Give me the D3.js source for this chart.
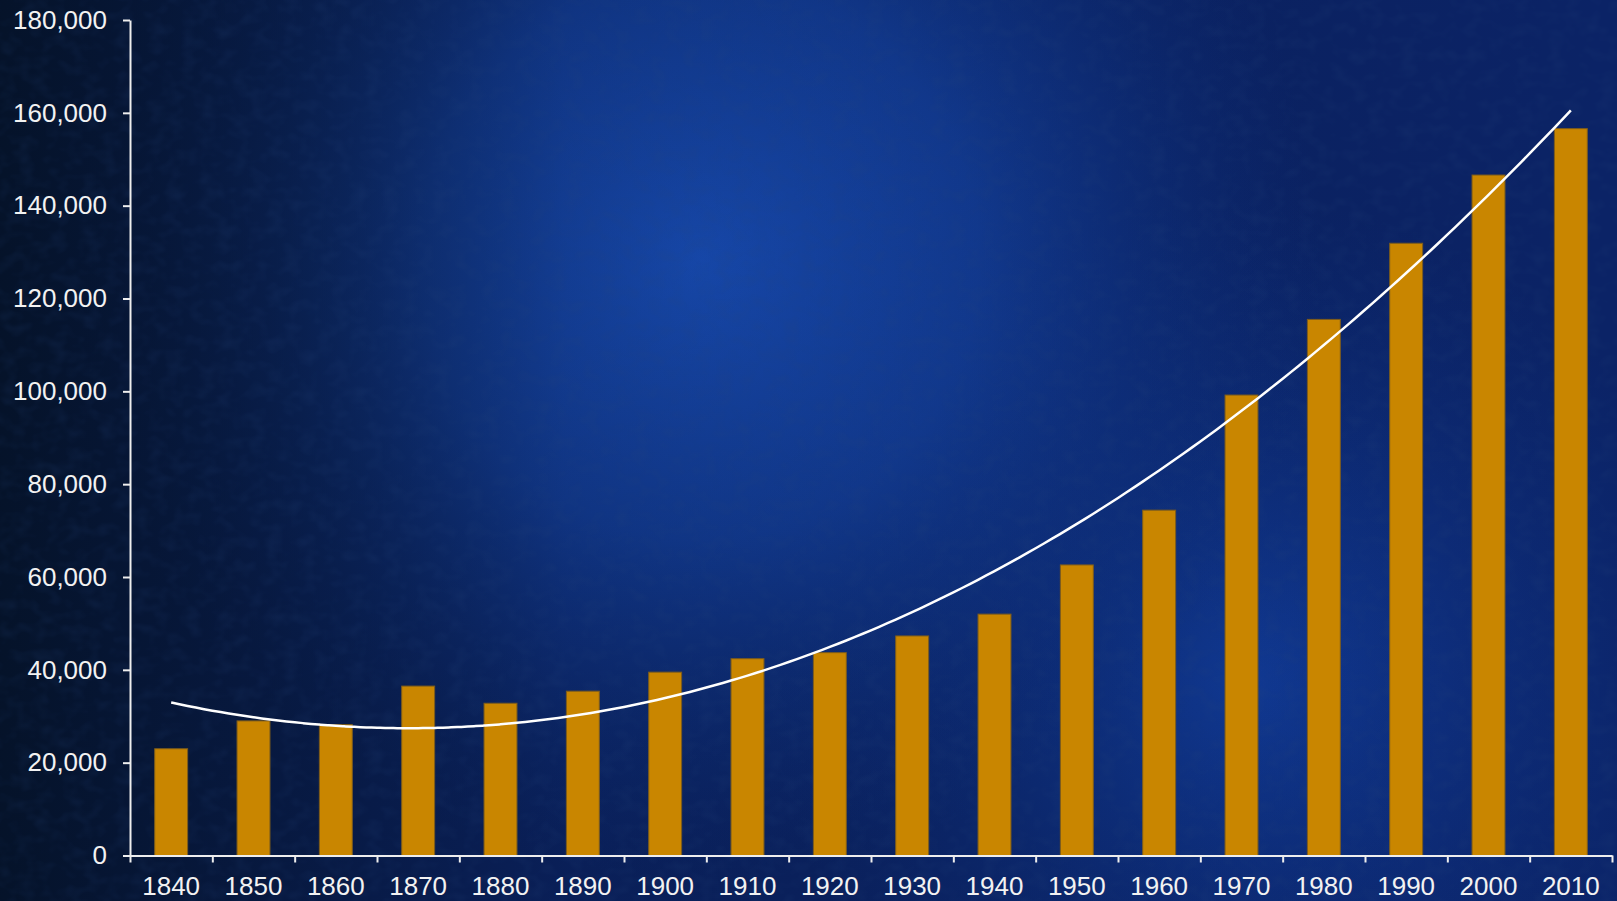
<!DOCTYPE html>
<html>
<head>
<meta charset="utf-8">
<script src="https://d3js.org/d3.v7.min.js"></script>
<style>
    html, body { margin: 0; padding: 0; background: #0a1f55; overflow: hidden; }
    svg { display: block; }
    .axis text { font-family: "Liberation Sans", Arial, sans-serif; font-size: 26px; fill: #f2f2f2; }
    .axis path, .axis line { stroke: #eeeeee; stroke-width: 2; }
</style>
</head>
<body>
<svg id="chart" width="1617" height="901"></svg>
<script>
    // data
    var years = [1840, 1850, 1860, 1870, 1880, 1890, 1900, 1910, 1920, 1930, 1940, 1950, 1960, 1970, 1980, 1990, 2000, 2010];
    var values = [23000, 29000, 28200, 36500, 32800, 35400, 39500, 42400, 43700, 47300, 52000, 62600, 74400, 99200, 115500, 131900, 146600, 156600];
    var yTicks = [0, 20000, 40000, 60000, 80000, 100000, 120000, 140000, 160000, 180000];

    var svg = d3.select('#chart');
    var width = +svg.attr('width');
    var height = +svg.attr('height');
    var margin = ({top: 20, right: 5, bottom: 45.5, left: 130});

    // background: dark navy with a glowing blue patch and some grain
    var defs = svg.append('defs');
    var g1 = defs.append('radialGradient').attr('id', 'glow')
        .attr('gradientUnits', 'userSpaceOnUse')
        .attr('cx', 700).attr('cy', 260).attr('r', 620);
    g1.append('stop').attr('offset', 0).attr('stop-color', '#1a52c4').attr('stop-opacity', 1);
    g1.append('stop').attr('offset', 0.45).attr('stop-color', '#1544a8').attr('stop-opacity', 0.8);
    g1.append('stop').attr('offset', 1).attr('stop-color', '#0d2f80').attr('stop-opacity', 0);
    var g2 = defs.append('radialGradient').attr('id', 'glow2')
        .attr('gradientUnits', 'userSpaceOnUse')
        .attr('cx', 1250).attr('cy', 680).attr('r', 480);
    g2.append('stop').attr('offset', 0).attr('stop-color', '#123ea0').attr('stop-opacity', 0.9);
    g2.append('stop').attr('offset', 1).attr('stop-color', '#0d2f80').attr('stop-opacity', 0);
    var g3 = defs.append('linearGradient').attr('id', 'leftShade')
        .attr('x1', 0).attr('x2', 1).attr('y1', 0).attr('y2', 0);
    g3.append('stop').attr('offset', 0).attr('stop-color', '#04101f').attr('stop-opacity', 0.85);
    g3.append('stop').attr('offset', 0.35).attr('stop-color', '#04101f').attr('stop-opacity', 0.2);
    g3.append('stop').attr('offset', 1).attr('stop-color', '#04101f').attr('stop-opacity', 0);
    var noise = defs.append('filter').attr('id', 'grain')
        .attr('x', 0).attr('y', 0).attr('width', '100%').attr('height', '100%');
    noise.append('feTurbulence').attr('type', 'fractalNoise')
        .attr('baseFrequency', '0.06 0.08').attr('numOctaves', 2).attr('seed', 4);
    noise.append('feColorMatrix').attr('type', 'matrix')
        .attr('values', '0 0 0 0 0.02  0 0 0 0 0.06  0 0 0 0 0.2  0 0 0 1.2 -0.5');

    svg.append('rect').attr('width', width).attr('height', height).attr('fill', '#0b2366');
    svg.append('rect').attr('width', width).attr('height', height).attr('fill', 'url(#glow2)');
    svg.append('rect').attr('width', width).attr('height', height).attr('fill', 'url(#glow)');
    svg.append('rect').attr('width', width).attr('height', height).attr('fill', 'url(#leftShade)');
    svg.append('rect').attr('width', width).attr('height', height)
        .attr('filter', 'url(#grain)').attr('opacity', 0.3);

    var x = d3.scaleBand()
        .domain(years)
        .range([margin.left, width - margin.right])
        .padding(0);
    var xBar = d3.scaleBand()
        .domain(years)
        .range([margin.left, width - margin.right])
        .paddingInner(0.6)
        .paddingOuter(0.3);
    var xEdge = d3.scaleLinear()
        .domain([0, years.length])
        .range([margin.left, width - margin.right]);
    var y = d3.scaleLinear()
        .domain([0, 180000])
        .range([height - margin.bottom, margin.top]);

    // bars
    svg.append('g')
        .selectAll('rect')
        .data(years)
        .join('rect')
        .attr('x', d => xBar(d))
        .attr('y', (d, i) => y(values[i]))
        .attr('width', xBar.bandwidth())
        .attr('height', (d, i) => y(0) - y(values[i]))
        .attr('fill', '#c98600')
        .attr('stroke', '#7d5c1c')
        .attr('stroke-width', 1);

    // polynomial (order 2) trendline, least squares on the bars
    var t = years.map(d => (d - 1925) / 10);
    var S = [0, 0, 0, 0, 0], B = [0, 0, 0];
    t.forEach(function(ti, i) {
        for (var k = 0; k < 5; k++) S[k] += Math.pow(ti, k);
        for (var k = 0; k < 3; k++) B[k] += values[i] * Math.pow(ti, k);
    });
    var M = [[S[0], S[1], S[2], B[0]], [S[1], S[2], S[3], B[1]], [S[2], S[3], S[4], B[2]]];
    for (var c = 0; c < 3; c++) {
        for (var r = c + 1; r < 3; r++) {
            var f = M[r][c] / M[c][c];
            for (var k = c; k < 4; k++) M[r][k] -= f * M[c][k];
        }
    }
    var coef = [0, 0, 0];
    for (var r = 2; r >= 0; r--) {
        var s = M[r][3];
        for (var k = r + 1; k < 3; k++) s -= M[r][k] * coef[k];
        coef[r] = s / M[r][r];
    }
    var fit = yr => { var u = (yr - 1925) / 10; return coef[0] + coef[1] * u + coef[2] * u * u; };
    var xYear = d3.scaleLinear()
        .domain([years[0], years[years.length - 1]])
        .range([x(years[0]) + x.bandwidth() / 2, x(years[years.length - 1]) + x.bandwidth() / 2]);
    var line = d3.line()
        .x(d => xYear(d))
        .y(d => y(fit(d)))
        .curve(d3.curveBasis);
    svg.append('path')
        .datum(d3.range(years[0], years[years.length - 1] + 0.01, 1))
        .attr('d', line)
        .attr('fill', 'none')
        .attr('stroke', '#ffffff')
        .attr('stroke-width', 2.5);

    // axes
    svg.append('g')
        .attr('class', 'axis')
        .attr('transform', `translate(${margin.left},0)`)
        .call(d3.axisLeft(y).tickValues(yTicks).tickFormat(d3.format(',')).tickSize(7).tickSizeOuter(0).tickPadding(16));
    svg.append('g')
        .attr('class', 'axis')
        .attr('transform', `translate(0,${height - margin.bottom})`)
        .call(d3.axisBottom(xEdge).tickValues(d3.range(years.length + 1)).tickFormat('').tickSize(7).tickSizeOuter(0));
    svg.append('g')
        .attr('class', 'axis')
        .attr('transform', `translate(0,${height - margin.bottom})`)
        .call(d3.axisBottom(x).tickSize(0).tickPadding(21))
        .call(g => g.select('.domain').remove());
</script>
</body>
</html>
